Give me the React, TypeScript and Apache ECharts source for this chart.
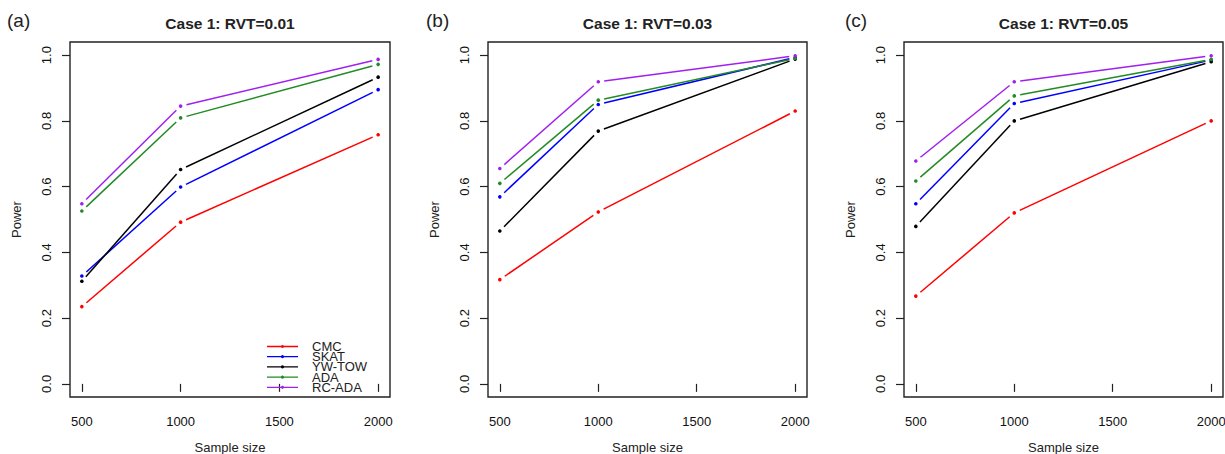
import React, { useEffect, useRef } from "react";
import * as echarts from "echarts";

const SAMPLE_SIZES = [500, 1000, 2000];
const X_TICKS = [500, 1000, 1500, 2000];
const Y_TICKS = [0, 0.2, 0.4, 0.6, 0.8, 1.0];
const METHODS = ["CMC", "SKAT", "YW-TOW", "ADA", "RC-ADA"];
const COLORS = ["#FF0000", "#0000FF", "#000000", "#238B23", "#A020F0"];
const PANEL_TITLES = ["Case 1: RVT=0.01", "Case 1: RVT=0.03", "Case 1: RVT=0.05"];
const PANEL_LABELS = ["(a)", "(b)", "(c)"];

// power values per method (CMC, SKAT, YW-TOW, ADA, RC-ADA) at sample sizes 500, 1000, 2000
const POWER_A = [
  [0.235, 0.492, 0.758],
  [0.328, 0.599, 0.895],
  [0.312, 0.652, 0.933],
  [0.526, 0.809, 0.972],
  [0.548, 0.845, 0.987],
];
const POWER_B = [
  [0.317, 0.523, 0.83],
  [0.569, 0.85, 0.993],
  [0.465, 0.769, 0.988],
  [0.61, 0.863, 0.99],
  [0.655, 0.919, 0.998],
];
const POWER_C = [
  [0.267, 0.52, 0.8],
  [0.548, 0.853, 0.985],
  [0.479, 0.8, 0.98],
  [0.617, 0.876, 0.987],
  [0.678, 0.919, 0.998],
];
const PANELS = [POWER_A, POWER_B, POWER_C];

const FONT = "'Liberation Sans', Arial, sans-serif";
const GRIDS = [
  { left: 70, top: 42, width: 320, height: 355 },
  { left: 488, top: 42, width: 319, height: 355 },
  { left: 904, top: 42, width: 319, height: 355 },
];
const LABEL_X = [7, 426, 845];

const LEGEND_ICON =
  "path://M0 0 L0.01 0 L0 0.01 Z M40 10 L39.99 10 L40 9.99 Z M0 4.35 L31 4.35 L31 5.65 L0 5.65 Z M15.5 3.4 A1.6 1.6 0 1 1 15.49 3.4 Z";

function makeSeries(g: number, m: number) {
  const color = COLORS[m];
  const pts = SAMPLE_SIZES.map((x, i) => [x, PANELS[g][m][i]]);
  return {
    type: "custom",
    name: g === 0 ? METHODS[m] : `${METHODS[m]} ${PANEL_LABELS[g]}`,
    xAxisIndex: g,
    yAxisIndex: g,
    data: pts,
    encode: { x: 0, y: 1 },
    itemStyle: { color },
    renderItem: (params: any, api: any) => {
      const i = params.dataIndex;
      const p = api.coord([api.value(0), api.value(1)]);
      const children: any[] = [
        { type: "circle", shape: { cx: p[0], cy: p[1], r: 1.8 }, style: { fill: color } },
      ];
      if (i < pts.length - 1) {
        const q = api.coord(pts[i + 1]);
        const dx = q[0] - p[0];
        const dy = q[1] - p[1];
        const L = Math.hypot(dx, dy);
        const gap = 6;
        if (L > 2 * gap) {
          children.push({
            type: "line",
            shape: {
              x1: p[0] + (dx / L) * gap,
              y1: p[1] + (dy / L) * gap,
              x2: q[0] - (dx / L) * gap,
              y2: q[1] - (dy / L) * gap,
            },
            style: { stroke: color, lineWidth: 1.5 },
          });
        }
      }
      return { type: "group", children };
    },
  };
}

export default function App() {
  const ref = useRef<HTMLDivElement>(null);
  useEffect(() => {
    if (!ref.current) return;
    const chart = echarts.init(ref.current, undefined, { renderer: "svg" });
    const titles: any[] = [];
    GRIDS.forEach((gr, g) => {
      titles.push({
        text: PANEL_TITLES[g],
        left: gr.left + gr.width / 2,
        top: 15,
        textAlign: "center",
        padding: 0,
        textStyle: { fontFamily: FONT, fontSize: 15.5, fontWeight: "bold", color: "#222" },
      });
      titles.push({
        text: PANEL_LABELS[g],
        left: LABEL_X[g],
        top: 11,
        padding: 0,
        textStyle: { fontFamily: FONT, fontSize: 19, fontWeight: "normal", color: "#222" },
      });
    });
    const series: any[] = [];
    for (let g = 0; g < 3; g++) for (let m = 0; m < METHODS.length; m++) series.push(makeSeries(g, m));
    chart.setOption({
      animation: false,
      backgroundColor: "#fff",
      title: titles,
      grid: GRIDS.map((gr) => ({
        ...gr,
        show: true,
        borderColor: "#222",
        borderWidth: 1.4,
        backgroundColor: "transparent",
        containLabel: false,
        outerBoundsMode: "none",
      })),
      legend: {
        data: METHODS,
        orient: "vertical",
        left: 267,
        top: 340,
        padding: 0,
        itemGap: -2.8,
        itemWidth: 40,
        itemHeight: 10,
        icon: LEGEND_ICON,
        selectedMode: false,
        textStyle: { fontFamily: FONT, fontSize: 13, lineHeight: 10, color: "#222", padding: 0 },
      },
      xAxis: GRIDS.map((_, g) => ({
        type: "value",
        gridIndex: g,
        min: 440,
        max: 2060,
        name: "Sample size",
        nameLocation: "middle",
        nameGap: 44,
        nameTextStyle: { fontFamily: FONT, fontSize: 13, color: "#222" },
        axisLine: { show: false },
        splitLine: { show: false },
        axisTick: { show: true, length: 8, customValues: X_TICKS, lineStyle: { color: "#222", width: 1.2 } },
        axisLabel: {
          customValues: X_TICKS,
          margin: 18,
          fontFamily: FONT,
          fontSize: 13,
          color: "#111",
          formatter: (v: number) => String(v),
        },
      })),
      yAxis: GRIDS.map((_, g) => ({
        type: "value",
        gridIndex: g,
        min: -0.04,
        max: 1.04,
        name: "Power",
        nameLocation: "middle",
        nameGap: 47,
        nameTextStyle: { fontFamily: FONT, fontSize: 13, color: "#222" },
        axisLine: { show: false },
        splitLine: { show: false },
        axisTick: { show: true, length: 8, customValues: Y_TICKS, lineStyle: { color: "#222", width: 1.2 } },
        axisLabel: {
          customValues: Y_TICKS,
          rotate: 90,
          margin: 17,
          fontFamily: FONT,
          fontSize: 13,
          color: "#111",
          formatter: (v: number) => v.toFixed(1),
        },
      })),
      series,
    });
    return () => chart.dispose();
  }, []);
  return (
    <div
      ref={ref}
      style={{ position: "fixed", left: 0, top: 0, width: 1225, height: 454, background: "#fff" }}
    />
  );
}
